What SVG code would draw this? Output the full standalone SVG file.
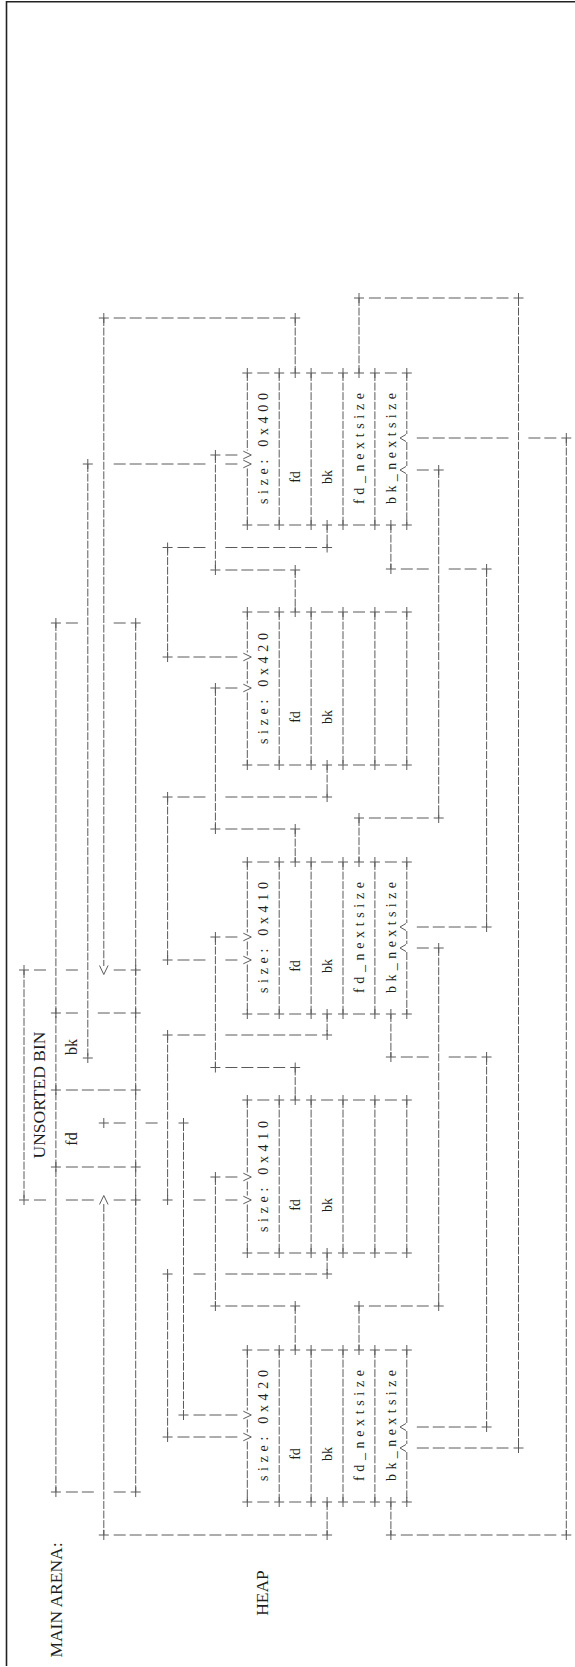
<svg xmlns="http://www.w3.org/2000/svg" width="575" height="1667" viewBox="0 0 575 1667">
<style>
.v{fill:none;stroke:#5a5a5a;stroke-width:1;stroke-dasharray:8 1.58}
.h{fill:none;stroke:#5a5a5a;stroke-width:1;stroke-dasharray:12 3.95}
.pl,.ar{fill:none;stroke:#5a5a5a;stroke-width:1}
.big{font-family:"Liberation Serif",serif;font-size:17.5px;fill:#1e1e1e}
.ufd{font-family:"Liberation Serif",serif;font-size:16px;fill:#1e1e1e}
.lbl{font-family:"Liberation Serif",serif;font-size:14px;fill:#1e1e1e}
.frame{fill:none;stroke:#222;stroke-width:1.6}
</style>
<defs>
<path id="pl" d="M-5 0H5M0 -5V5"/>
<path id="av" d="M-4 -3.8L4 0L-4 3.8"/>
<path id="ac" d="M-0.8 -3.5L-6.8 0L-0.8 3.5"/>
<path id="aup" d="M-4.3 4.5L0 -4.5L4.3 4.5"/>
<path id="adn" d="M-4.3 -4.5L0 4.5L4.3 -4.5"/>
</defs>
<rect width="575" height="1667" fill="#fff"/>
<g id="frame"><path class="frame" d="M6.5 1V1666M6.5 1.7H575"/></g>

<g id="main-arena">
<path class="v" d="M55.9 623V1492M135.7 623V1492"/>
<path class="h" d="M65.9 623H77.9M113.7 623H125.7M65.9 1492H93.8M113.7 1492H125.7"/>
<g class="pl"><use href="#pl" x="55.9" y="623"/><use href="#pl" x="135.7" y="623"/><use href="#pl" x="55.9" y="1492"/><use href="#pl" x="135.7" y="1492"/></g>
<text class="big" transform="translate(61.8,1600) rotate(-90)" text-anchor="middle">MAIN ARENA:</text>
</g>

<g id="unsorted-bin">
<path class="v" d="M24 970V1200"/>
<path class="h" d="M34 970H46M65.9 970H77.9M113.7 970H125.7M34 1200H46M65.9 1200H93.8M113.7 1200H125.7M65.9 1013H77.9M97.8 1013H125.7M65.9 1090H125.7M65.9 1167H125.7"/>
<g class="pl"><use href="#pl" x="24" y="970"/><use href="#pl" x="135.7" y="970"/><use href="#pl" x="24" y="1200"/><use href="#pl" x="135.7" y="1200"/><use href="#pl" x="55.9" y="1013"/><use href="#pl" x="135.7" y="1013"/><use href="#pl" x="55.9" y="1090"/><use href="#pl" x="135.7" y="1090"/><use href="#pl" x="55.9" y="1167"/><use href="#pl" x="135.7" y="1167"/></g>
<text class="big" transform="translate(44.8,1095) rotate(-90)" text-anchor="middle">UNSORTED BIN</text>
<text class="ufd" transform="translate(77,1139) rotate(-90)" text-anchor="middle">fd</text>
<text class="ufd" transform="translate(77,1047) rotate(-90)" text-anchor="middle">bk</text>
</g>

<text id="heap-label" class="big" transform="translate(268.3,1593) rotate(-90)" text-anchor="middle">HEAP</text>

<g id="chunk-1">
<path class="v" d="M247.3 1350V1410.5M247.3 1419.5V1432.5M247.3 1441.5V1502M279.2 1350V1502M311.1 1350V1502M343 1350V1502M374.9 1350V1502M406.8 1350V1423M406.8 1431V1444M406.8 1452V1502"/>
<path class="h" d="M257.3 1350H269.3M321.1 1350H333.1M384.9 1350H396.9M257.3 1502H269.3M289.2 1502H301.2M353 1502H365"/>
<g class="pl"><use href="#pl" x="247.3" y="1350"/><use href="#pl" x="279.2" y="1350"/><use href="#pl" x="295.2" y="1350"/><use href="#pl" x="311.1" y="1350"/><use href="#pl" x="343" y="1350"/><use href="#pl" x="359" y="1350"/><use href="#pl" x="374.9" y="1350"/><use href="#pl" x="406.8" y="1350"/><use href="#pl" x="247.3" y="1502"/><use href="#pl" x="279.2" y="1502"/><use href="#pl" x="311.1" y="1502"/><use href="#pl" x="327.1" y="1502"/><use href="#pl" x="343" y="1502"/><use href="#pl" x="374.9" y="1502"/><use href="#pl" x="390.9" y="1502"/><use href="#pl" x="406.8" y="1502"/></g>
<g class="ar"><use href="#av" x="247.3" y="1415"/><use href="#av" x="247.3" y="1437"/><use href="#ac" x="406.8" y="1427"/><use href="#ac" x="406.8" y="1448"/></g>
<text class="lbl" transform="translate(268,1481) rotate(-90)" textLength="111" lengthAdjust="spacing">size: 0x420</text>
<text class="lbl" transform="translate(300.2,1454) rotate(-90)" text-anchor="middle">fd</text>
<text class="lbl" transform="translate(332.1,1454) rotate(-90)" text-anchor="middle">bk</text>
<text class="lbl" transform="translate(364,1481) rotate(-90)" textLength="111" lengthAdjust="spacing">fd_nextsize</text>
<text class="lbl" transform="translate(395.9,1481) rotate(-90)" textLength="111" lengthAdjust="spacing">bk_nextsize</text>
</g>

<g id="chunk-2">
<path class="v" d="M247.3 1100V1172.5M247.3 1181.5V1195.5M247.3 1204.5V1253M279.2 1100V1253M311.1 1100V1253M343 1100V1253M374.9 1100V1253M406.8 1100V1253"/>
<path class="h" d="M257.3 1100H269.3M321.1 1100H333.1M353 1100H365M384.9 1100H396.9M257.3 1253H269.3M289.2 1253H301.2M353 1253H365M384.9 1253H396.9"/>
<g class="pl"><use href="#pl" x="247.3" y="1100"/><use href="#pl" x="279.2" y="1100"/><use href="#pl" x="295.2" y="1100"/><use href="#pl" x="311.1" y="1100"/><use href="#pl" x="343" y="1100"/><use href="#pl" x="374.9" y="1100"/><use href="#pl" x="406.8" y="1100"/><use href="#pl" x="247.3" y="1253"/><use href="#pl" x="279.2" y="1253"/><use href="#pl" x="311.1" y="1253"/><use href="#pl" x="327.1" y="1253"/><use href="#pl" x="343" y="1253"/><use href="#pl" x="374.9" y="1253"/><use href="#pl" x="406.8" y="1253"/></g>
<g class="ar"><use href="#av" x="247.3" y="1177"/><use href="#av" x="247.3" y="1200"/></g>
<text class="lbl" transform="translate(268,1232) rotate(-90)" textLength="111" lengthAdjust="spacing">size: 0x410</text>
<text class="lbl" transform="translate(300.2,1205) rotate(-90)" text-anchor="middle">fd</text>
<text class="lbl" transform="translate(332.1,1205) rotate(-90)" text-anchor="middle">bk</text>
</g>

<g id="chunk-3">
<path class="v" d="M247.3 862V932.5M247.3 941.5V955.5M247.3 964.5V1014M279.2 862V1014M311.1 862V1014M343 862V1014M374.9 862V1014M406.8 862V923M406.8 931V944M406.8 952V1014"/>
<path class="h" d="M257.3 862H269.3M321.1 862H333.1M384.9 862H396.9M257.3 1014H269.3M289.2 1014H301.2M353 1014H365"/>
<g class="pl"><use href="#pl" x="247.3" y="862"/><use href="#pl" x="279.2" y="862"/><use href="#pl" x="295.2" y="862"/><use href="#pl" x="311.1" y="862"/><use href="#pl" x="343" y="862"/><use href="#pl" x="359" y="862"/><use href="#pl" x="374.9" y="862"/><use href="#pl" x="406.8" y="862"/><use href="#pl" x="247.3" y="1014"/><use href="#pl" x="279.2" y="1014"/><use href="#pl" x="311.1" y="1014"/><use href="#pl" x="327.1" y="1014"/><use href="#pl" x="343" y="1014"/><use href="#pl" x="374.9" y="1014"/><use href="#pl" x="390.9" y="1014"/><use href="#pl" x="406.8" y="1014"/></g>
<g class="ar"><use href="#av" x="247.3" y="937"/><use href="#av" x="247.3" y="960"/><use href="#ac" x="406.8" y="927"/><use href="#ac" x="406.8" y="948"/></g>
<text class="lbl" transform="translate(268,993) rotate(-90)" textLength="111" lengthAdjust="spacing">size: 0x410</text>
<text class="lbl" transform="translate(300.2,966) rotate(-90)" text-anchor="middle">fd</text>
<text class="lbl" transform="translate(332.1,966) rotate(-90)" text-anchor="middle">bk</text>
<text class="lbl" transform="translate(364,993) rotate(-90)" textLength="111" lengthAdjust="spacing">fd_nextsize</text>
<text class="lbl" transform="translate(395.9,993) rotate(-90)" textLength="111" lengthAdjust="spacing">bk_nextsize</text>
</g>

<g id="chunk-4">
<path class="v" d="M247.3 612V652.5M247.3 661.5V683.5M247.3 692.5V765M279.2 612V765M311.1 612V765M343 612V765M374.9 612V765M406.8 612V765"/>
<path class="h" d="M257.3 612H269.3M321.1 612H333.1M353 612H365M384.9 612H396.9M257.3 765H269.3M289.2 765H301.2M353 765H365M384.9 765H396.9"/>
<g class="pl"><use href="#pl" x="247.3" y="612"/><use href="#pl" x="279.2" y="612"/><use href="#pl" x="295.2" y="612"/><use href="#pl" x="311.1" y="612"/><use href="#pl" x="343" y="612"/><use href="#pl" x="374.9" y="612"/><use href="#pl" x="406.8" y="612"/><use href="#pl" x="247.3" y="765"/><use href="#pl" x="279.2" y="765"/><use href="#pl" x="311.1" y="765"/><use href="#pl" x="327.1" y="765"/><use href="#pl" x="343" y="765"/><use href="#pl" x="374.9" y="765"/><use href="#pl" x="406.8" y="765"/></g>
<g class="ar"><use href="#av" x="247.3" y="657"/><use href="#av" x="247.3" y="688"/></g>
<text class="lbl" transform="translate(268,744) rotate(-90)" textLength="111" lengthAdjust="spacing">size: 0x420</text>
<text class="lbl" transform="translate(300.2,717) rotate(-90)" text-anchor="middle">fd</text>
<text class="lbl" transform="translate(332.1,717) rotate(-90)" text-anchor="middle">bk</text>
</g>

<g id="chunk-5">
<path class="v" d="M247.3 373V450.5M247.3 468.5V525M279.2 373V525M311.1 373V525M343 373V525M374.9 373V525M406.8 373V434M406.8 442V466M406.8 474V525"/>
<path class="h" d="M257.3 373H269.3M321.1 373H333.1M384.9 373H396.9M257.3 525H269.3M289.2 525H301.2M353 525H365"/>
<g class="pl"><use href="#pl" x="247.3" y="373"/><use href="#pl" x="279.2" y="373"/><use href="#pl" x="295.2" y="373"/><use href="#pl" x="311.1" y="373"/><use href="#pl" x="343" y="373"/><use href="#pl" x="359" y="373"/><use href="#pl" x="374.9" y="373"/><use href="#pl" x="406.8" y="373"/><use href="#pl" x="247.3" y="525"/><use href="#pl" x="279.2" y="525"/><use href="#pl" x="311.1" y="525"/><use href="#pl" x="327.1" y="525"/><use href="#pl" x="343" y="525"/><use href="#pl" x="374.9" y="525"/><use href="#pl" x="390.9" y="525"/><use href="#pl" x="406.8" y="525"/></g>
<g class="ar"><use href="#av" x="247.3" y="455"/><use href="#av" x="247.3" y="464"/><use href="#ac" x="406.8" y="438"/><use href="#ac" x="406.8" y="470"/></g>
<text class="lbl" transform="translate(268,504) rotate(-90)" textLength="111" lengthAdjust="spacing">size: 0x400</text>
<text class="lbl" transform="translate(300.2,477) rotate(-90)" text-anchor="middle">fd</text>
<text class="lbl" transform="translate(332.1,477) rotate(-90)" text-anchor="middle">bk</text>
<text class="lbl" transform="translate(364,504) rotate(-90)" textLength="111" lengthAdjust="spacing">fd_nextsize</text>
<text class="lbl" transform="translate(395.9,504) rotate(-90)" textLength="111" lengthAdjust="spacing">bk_nextsize</text>
</g>

<g id="connectors">
<path class="v" d="M87.8 464V1058M103.8 318V966M103.8 1204V1535M167.6 547.5V657M167.6 797V960M167.6 1035V1200M167.6 1274V1437M183.5 1123V1415M215.4 455V570M215.4 688V829M215.4 937V1067.5M215.4 1177V1306M295.2 318V373M295.2 570V612M295.2 829V862M295.2 1067.5V1100M295.2 1306V1350M327.1 525V547.5M327.1 765V797M327.1 1014V1035M327.1 1253V1274M327.1 1502V1535M359 298V373M359 818V862M359 1306V1350M390.9 525V569M390.9 1014V1057M390.9 1502V1535M438.7 470V818M438.7 948V1306M486.6 569V927M486.6 1057V1427M518.5 298V1448M566.3 438V1535"/>
<path class="h" d="M113.7 1123H125.7M145.6 1123H157.6M113.7 464H205.5M225.4 464H237.4M113.7 1535H317.1M400.8 1535H556.4M225.4 1306H285.2M225.4 1177H237.4M225.4 1067.5H285.2M225.4 937H237.4M225.4 829H285.2M225.4 688H237.4M225.4 570H285.2M225.4 455H237.4M113.7 318H285.2M177.5 547.5H205.5M225.4 547.5H317.1M177.5 657H237.4M177.5 797H205.5M225.4 797H317.1M177.5 960H205.5M225.4 960H237.4M177.5 1035H205.5M225.4 1035H317.1M193.5 1200H205.5M225.4 1200H237.4M193.5 1274H205.5M225.4 1274H317.1M177.5 1437H237.4M193.5 1415H237.4M368.9 298H508.5M416.8 1448H508.5M368.9 818H428.8M416.8 470H428.8M368.9 1306H428.8M416.8 948H428.8M400.8 569H428.8M448.7 569H476.6M416.8 927H476.6M400.8 1057H428.8M448.7 1057H476.6M416.8 1427H476.6M416.8 438H508.5M528.4 438H556.4"/>
<g class="pl">
<use href="#pl" x="103.8" y="1123"/><use href="#pl" x="183.5" y="1123"/><use href="#pl" x="183.5" y="1415"/><use href="#pl" x="87.8" y="1058"/><use href="#pl" x="87.8" y="464"/>
<use href="#pl" x="103.8" y="1535"/><use href="#pl" x="327.1" y="1535"/><use href="#pl" x="390.9" y="1535"/><use href="#pl" x="566.3" y="1535"/>
<use href="#pl" x="103.8" y="318"/><use href="#pl" x="295.2" y="318"/>
<use href="#pl" x="215.4" y="1306"/><use href="#pl" x="295.2" y="1306"/><use href="#pl" x="215.4" y="1177"/>
<use href="#pl" x="215.4" y="1067.5"/><use href="#pl" x="295.2" y="1067.5"/><use href="#pl" x="215.4" y="937"/>
<use href="#pl" x="215.4" y="829"/><use href="#pl" x="295.2" y="829"/><use href="#pl" x="215.4" y="688"/>
<use href="#pl" x="215.4" y="570"/><use href="#pl" x="295.2" y="570"/><use href="#pl" x="215.4" y="455"/>
<use href="#pl" x="167.6" y="547.5"/><use href="#pl" x="327.1" y="547.5"/><use href="#pl" x="167.6" y="657"/>
<use href="#pl" x="167.6" y="797"/><use href="#pl" x="327.1" y="797"/><use href="#pl" x="167.6" y="960"/>
<use href="#pl" x="167.6" y="1035"/><use href="#pl" x="327.1" y="1035"/><use href="#pl" x="167.6" y="1200"/>
<use href="#pl" x="167.6" y="1274"/><use href="#pl" x="327.1" y="1274"/><use href="#pl" x="167.6" y="1437"/>
<use href="#pl" x="359" y="298"/><use href="#pl" x="518.5" y="298"/><use href="#pl" x="518.5" y="1448"/>
<use href="#pl" x="359" y="818"/><use href="#pl" x="438.7" y="818"/><use href="#pl" x="438.7" y="470"/>
<use href="#pl" x="359" y="1306"/><use href="#pl" x="438.7" y="1306"/><use href="#pl" x="438.7" y="948"/>
<use href="#pl" x="390.9" y="569"/><use href="#pl" x="486.6" y="569"/><use href="#pl" x="486.6" y="927"/>
<use href="#pl" x="390.9" y="1057"/><use href="#pl" x="486.6" y="1057"/><use href="#pl" x="486.6" y="1427"/>
<use href="#pl" x="566.3" y="438"/>
</g>
<g class="ar"><use href="#aup" x="103.8" y="1200"/><use href="#adn" x="103.8" y="970"/></g>
</g>
</svg>
